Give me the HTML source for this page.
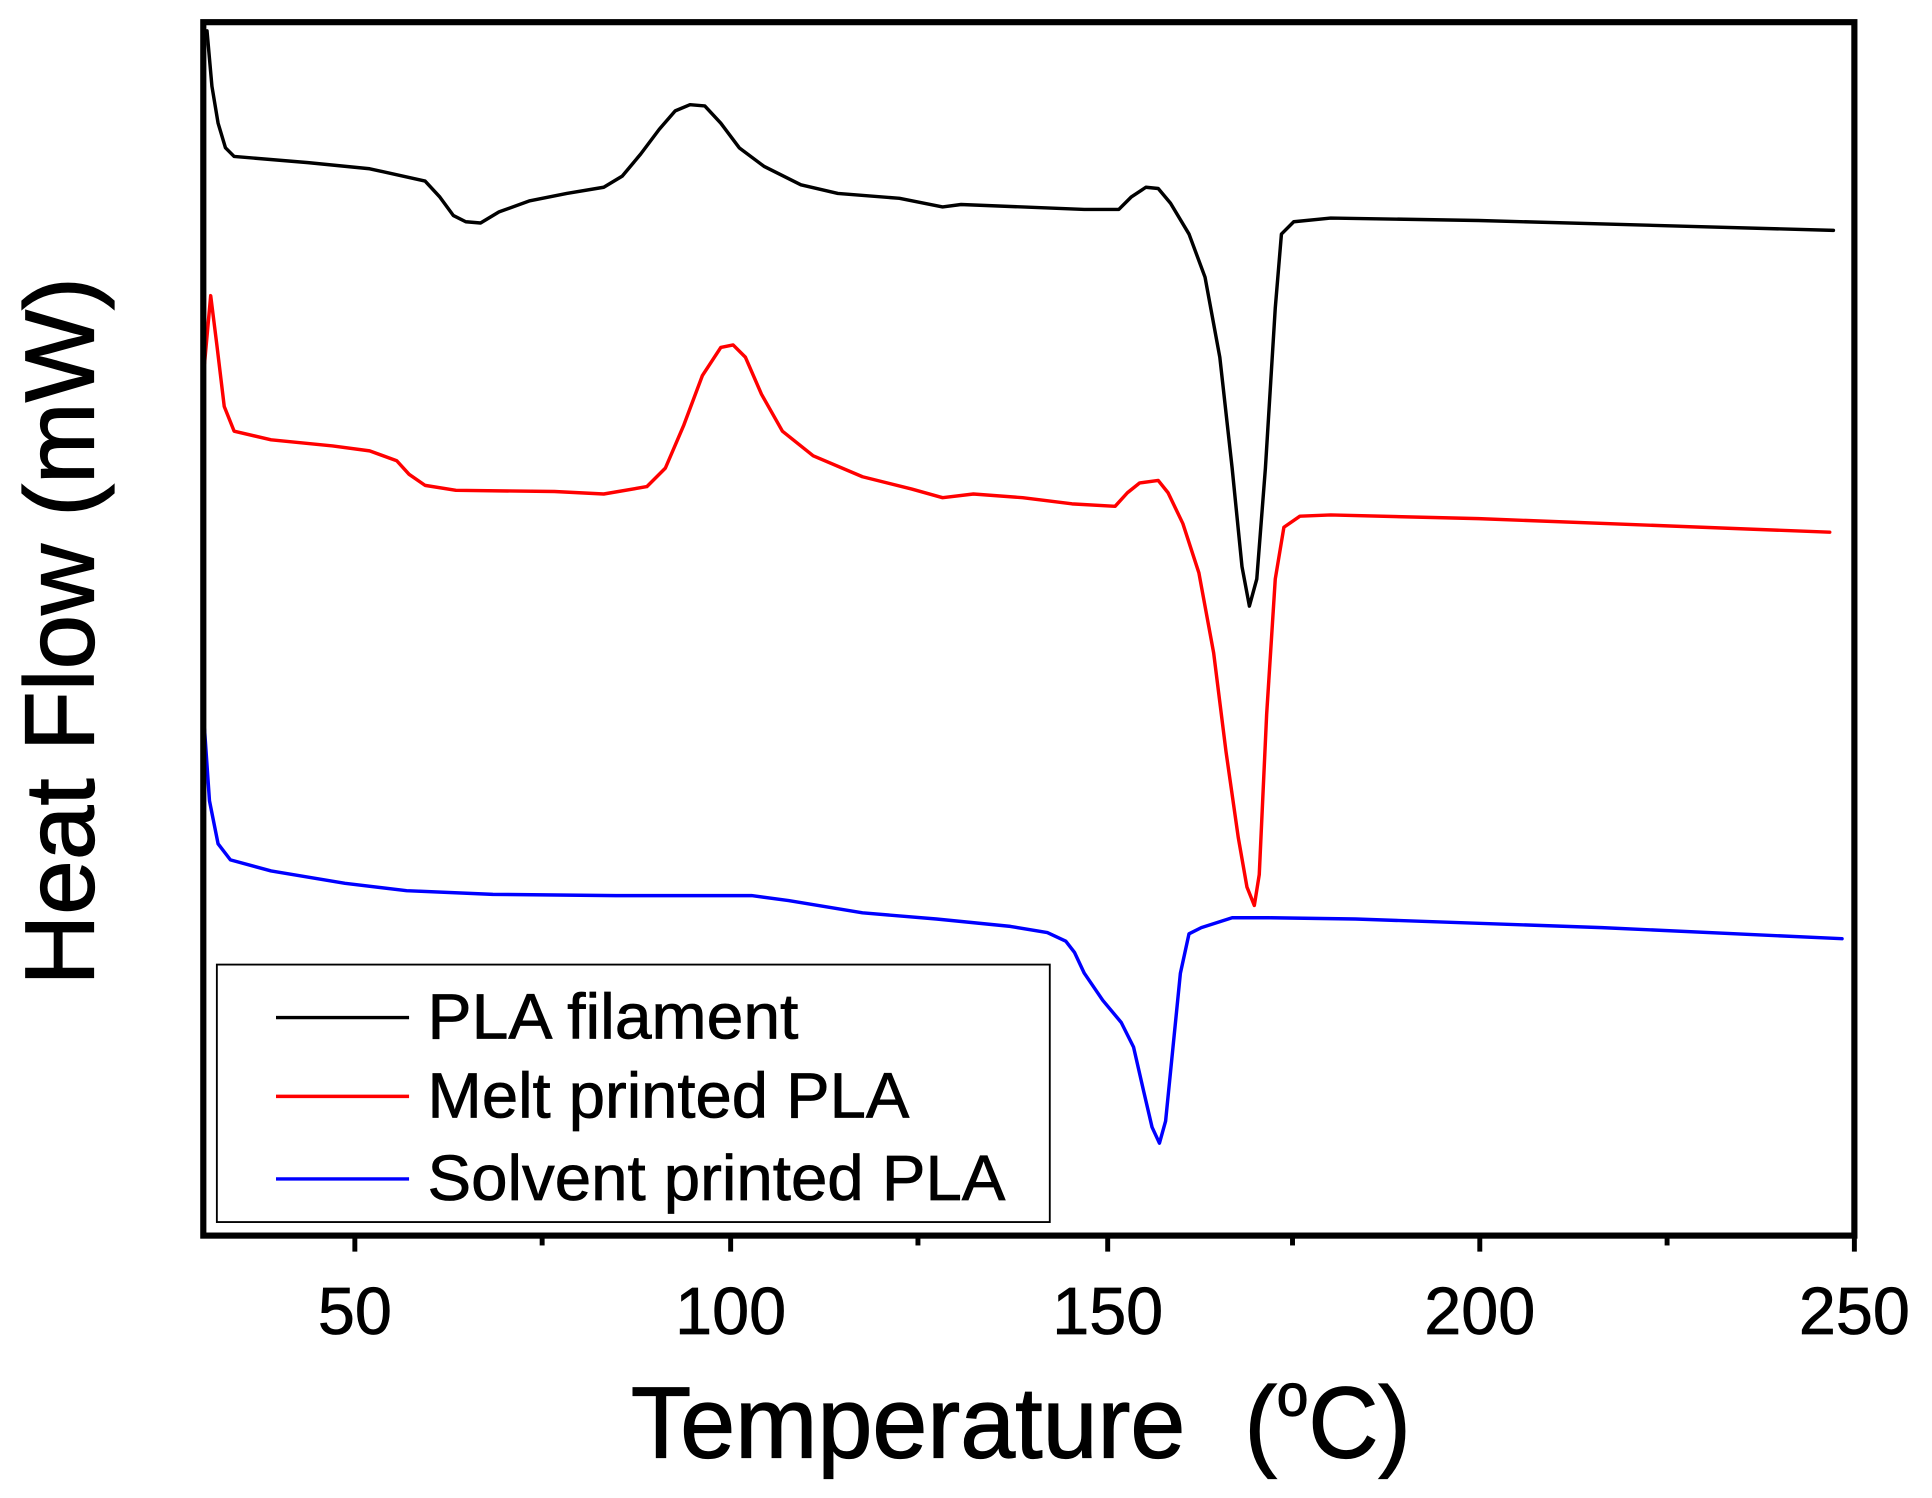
<!DOCTYPE html>
<html><head><meta charset="utf-8"><style>
html,body{margin:0;padding:0;background:#fff;width:1932px;height:1498px;overflow:hidden}
svg{display:block}
text{font-family:"Liberation Sans",Arial,sans-serif}
</style></head><body>
<svg width="1932" height="1498" viewBox="0 0 1568 1216" preserveAspectRatio="none" xmlns="http://www.w3.org/2000/svg">
<rect x="0" y="0" width="1568" height="1216" fill="#fff"/>
<g fill="none" stroke-linejoin="round" stroke-linecap="round" stroke-width="2.8">
<polyline stroke="#000" points="168,25 172,70 177,100 183,120 190,127 250,132 300,137 345,147 357,160 368,175 378,180 390,181 405,172 430,163 460,157 490,152 505,143 520,125 535,105 548,90 560,85 572,86 585,100 600,120 620,135 650,150 680,157 730,161 765,168 780,166 830,168 880,170 908,170 918,160 930,152 940,153 950,165 965,190 978,225 990,290 1000,380 1008,460 1014,492 1020,470 1027,380 1035,250 1040,190 1050,180 1080,177 1200,179 1488,187"/>
<polyline stroke="#f00" points="166,295 171,240 176,280 182,330 190,350 220,357 270,362 300,366 322,374 332,385 345,394 370,398 450,399 490,401 525,395 540,380 555,345 570,305 585,282 595,280 605,290 618,320 635,350 660,370 700,387 740,397 765,404 790,401 830,404 870,409 905,411 915,400 925,392 940,390 948,400 960,425 973,465 985,530 995,610 1005,680 1012,720 1018,735 1022,710 1028,580 1035,470 1042,428 1055,419 1080,418 1200,421 1485,432"/>
<polyline stroke="#00f" points="166,592 170,650 177,685 187,698 220,707 280,717 330,723 400,726 500,727 610,727 640,731 700,741 760,746 820,752 850,757 865,764 872,773 880,790 895,812 910,830 920,850 928,885 935,915 941,928 946,910 952,850 958,790 965,758 975,753 1000,745 1030,745 1100,746 1300,753 1495,762"/>
</g>
<rect x="165" y="18" width="1340" height="985" fill="none" stroke="#000" stroke-width="5"/>
<g stroke="#000" stroke-width="4">
<line x1="288" y1="1003" x2="288" y2="1016"/><line x1="593" y1="1003" x2="593" y2="1016"/><line x1="899" y1="1003" x2="899" y2="1016"/><line x1="1201" y1="1003" x2="1201" y2="1016"/><line x1="1505" y1="1003" x2="1505" y2="1016"/>
<line x1="440" y1="1003" x2="440" y2="1011"/><line x1="745" y1="1003" x2="745" y2="1011"/><line x1="1049" y1="1003" x2="1049" y2="1011"/><line x1="1353" y1="1003" x2="1353" y2="1011"/>
</g>
<g font-size="54" text-anchor="middle" fill="#000" stroke="#000" stroke-width="0.6">
<text x="288" y="1083">50</text><text x="593" y="1083">100</text><text x="899" y="1083">150</text><text x="1201" y="1083">200</text><text x="1505" y="1083">250</text>
</g>
<g stroke="#000" stroke-width="1">
<text x="512" y="1183" font-size="82" textLength="450" lengthAdjust="spacingAndGlyphs">Temperature</text>
<text x="1010" y="1183" font-size="82" textLength="135" lengthAdjust="spacingAndGlyphs">(<tspan font-size="48" dy="-34">o</tspan><tspan dy="34">C)</tspan></text>
<text transform="translate(76,800) rotate(-90)" font-size="80" textLength="575" lengthAdjust="spacingAndGlyphs">Heat Flow  (mW)</text>
</g>
<rect x="176" y="783" width="676" height="209" fill="#fff" stroke="#000" stroke-width="1.5"/>
<g stroke-width="2.8">
<line x1="224" y1="826" x2="332" y2="826" stroke="#000"/>
<line x1="224" y1="890" x2="332" y2="890" stroke="#f00"/>
<line x1="224" y1="957" x2="332" y2="957" stroke="#00f"/>
</g>
<g font-size="52" fill="#000" stroke="#000" stroke-width="0.6">
<text x="347" y="843" textLength="301" lengthAdjust="spacingAndGlyphs">PLA filament</text>
<text x="347" y="907" textLength="391" lengthAdjust="spacingAndGlyphs">Melt printed PLA</text>
<text x="347" y="974" textLength="469" lengthAdjust="spacingAndGlyphs">Solvent printed PLA</text>
</g>
</svg>
</body></html>
